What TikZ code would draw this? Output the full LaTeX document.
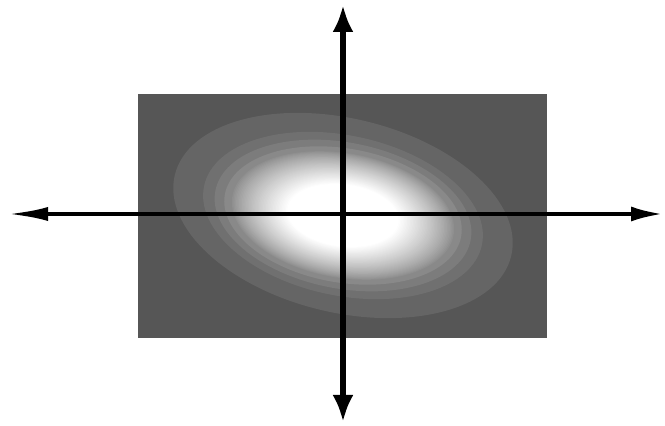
\documentclass[tikz,border=0pt]{standalone}
\usetikzlibrary{arrows.meta}
\definecolor{bggray}{HTML}{565656}
\definecolor{ringA}{HTML}{656565}
\definecolor{ringB}{HTML}{707070}
\definecolor{ringC}{HTML}{7C7C7C}
\definecolor{ringD}{HTML}{898989}
\begin{document}
\begin{tikzpicture}[x=1pt,y=1pt,
  haxis/.style={line width=4pt,{Latex[length=40pt,width=14pt]}-{Latex[length=32pt,width=15pt]}},
  vaxis/.style={line width=5.5pt,{Latex[length=27pt,width=21pt]}-{Latex[length=27pt,width=21pt]}}]
\useasboundingbox (0,0) rectangle (665,426);
\fill[bggray] (138,88) rectangle (547,332);
\begin{scope}[shift={(343,210.5)}]
  \fill[ringA,rotate=-13.5] (0,0) ellipse [x radius=173, y radius=97];
  \fill[ringB,rotate=-12] (0,0) ellipse [x radius=142, y radius=80];
  \fill[ringC,rotate=-11] (0,0) ellipse [x radius=130, y radius=73];
  \fill[ringD,rotate=-10] (0,0) ellipse [x radius=120, y radius=67];
  \foreach \k in {0,...,40}{
    \pgfmathsetmacro{\s}{0.65-0.33*\k/40}
    \pgfmathsetmacro{\w}{100*(\k/40)^0.8}
    \pgfmathsetmacro{\ang}{-10+3*\k/40}
    \fill[white!\w!ringD,rotate=\ang] (0,0) ellipse [x radius=175*\s, y radius=97*\s];
  }
\end{scope}
\coordinate (L) at (8,212);
\coordinate (R) at (663,212);
\coordinate (T) at (343,421);
\coordinate (B) at (343,4);
\draw[haxis] (L) -- (R);
\draw[vaxis] (B) -- (T);
\end{tikzpicture}
\end{document}
